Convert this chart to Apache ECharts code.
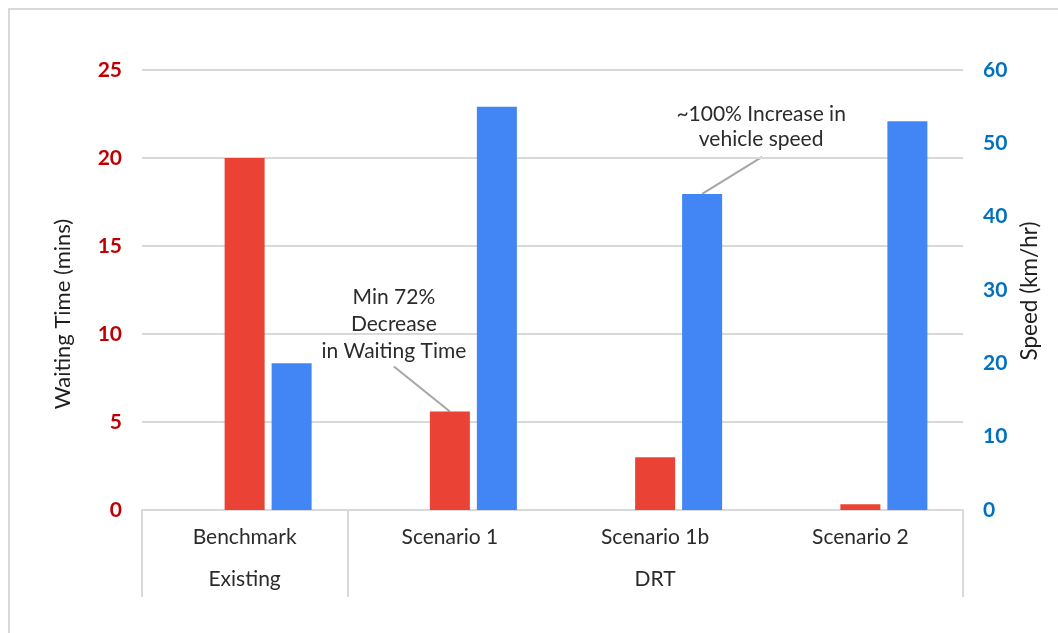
<!DOCTYPE html>
<html>
<head>
<meta charset="utf-8">
<script src="https://cdn.jsdelivr.net/npm/echarts@6/dist/echarts.min.js"></script>
<style>
html,body{margin:0;padding:0;background:#fff;}
#chart{width:1058px;height:633px;}
</style>
</head>
<body>
<div id="chart"></div>
<script>
// ---- data ----
const categories = ['Benchmark', 'Scenario 1', 'Scenario 1b', 'Scenario 2'];
const groupLabels = ['Existing', '', 'DRT', ''];
const groupStarts = [0, 1]; // category index where each group begins
const spacer = [null, null, null, null];
const waitingTime = [20, 5.6, 3.0, 0.33];
const speed = [20, 55, 43.1, 53];
const waitAxis = { min: 0, max: 25, interval: 5, name: 'Waiting Time (mins)' };
const speedAxis = { min: 0, max: 60, interval: 10, name: 'Speed (km/hr)' };
const notes = [
  { series: 1, index: 1, text: 'Min 72%\nDecrease\nin Waiting Time' },
  { series: 2, index: 2, text: '~100% Increase in\nvehicle speed' }
];

const FONT = 'Lato';
const TEXT = '#2b2b2b';
const chart = echarts.init(document.getElementById('chart'), null, { renderer: 'canvas' });

const option = {
  animation: false,
  backgroundColor: '#ffffff',
  textStyle: { fontFamily: FONT },
  grid: { left: 142, right: 95, top: 70, bottom: 123 },
  xAxis: [
    {
      type: 'category', data: categories, position: 'bottom',
      axisLine: { show: true, lineStyle: { color: '#d9d9d9', width: 2 } },
      axisTick: { show: false },
      axisLabel: { color: TEXT, fontSize: 21, fontFamily: FONT, margin: 17, interval: 0 },
      splitLine: { show: false }
    },
    {
      type: 'category', data: groupLabels, position: 'bottom',
      axisLine: { show: false },
      axisTick: {
        show: true, length: 87, inside: false,
        interval: function (i) { return groupStarts.indexOf(i) >= 0; },
        lineStyle: { color: '#d9d9d9', width: 2 }
      },
      axisLabel: { color: TEXT, fontSize: 21, fontFamily: FONT, margin: 59, interval: 0 },
      splitLine: { show: false }
    }
  ],
  yAxis: [
    {
      type: 'value', position: 'left', min: waitAxis.min, max: waitAxis.max, interval: waitAxis.interval,
      axisLine: { show: false }, axisTick: { show: false },
      axisLabel: { color: '#C00000', fontWeight: 'bold', fontSize: 21, fontFamily: FONT, margin: 20 },
      splitLine: { show: true, lineStyle: { color: '#d9d9d9', width: 2 } }
    },
    {
      type: 'value', position: 'right', min: speedAxis.min, max: speedAxis.max, interval: speedAxis.interval,
      axisLine: { show: false }, axisTick: { show: false },
      axisLabel: { color: '#0070C0', fontWeight: 'bold', fontSize: 21, fontFamily: FONT, margin: 20 },
      splitLine: { show: false }
    }
  ],
  series: [
    { type: 'bar', name: 'spacer', xAxisIndex: 0, yAxisIndex: 0, data: spacer, barWidth: 40, barGap: '17.5%', silent: true },
    { type: 'bar', name: 'Waiting Time', xAxisIndex: 0, yAxisIndex: 0, data: waitingTime, barWidth: 40, barGap: '17.5%',
      itemStyle: { color: '#EA4335' } },
    { type: 'bar', name: 'Speed', xAxisIndex: 0, yAxisIndex: 1, data: speed, barWidth: 40, barGap: '17.5%',
      itemStyle: { color: '#4285F4' } }
  ],
  graphic: [
    { type: 'rect', silent: true, shape: { x: 9, y: 9, width: 1200, height: 800 },
      style: { fill: 'none', stroke: '#d9d9d9', lineWidth: 2 } },
    { type: 'text', x: 63, y: 314, rotation: Math.PI / 2,
      style: { text: waitAxis.name, font: '22px ' + FONT, fill: '#1f1f1f', textAlign: 'center', textVerticalAlign: 'middle' } },
    { type: 'text', x: 1030, y: 291, rotation: Math.PI / 2,
      style: { text: speedAxis.name, font: '22.5px ' + FONT, fill: '#1f1f1f', textAlign: 'center', textVerticalAlign: 'middle' } }
  ]
};
chart.setOption(option);

// ---- annotations anchored to the rendered bars ----
const noteLayout = [
  { tx: -56, ty: -87, lh: 27, lx: -56, ly: -45 },
  { tx: 59, ty: -67, lh: 25, lx: 60, ly: -37 }
];
const extra = [];
notes.forEach(function (n, k) {
  const lay = chart.getModel().getSeriesByIndex(n.series).getData().getItemLayout(n.index);
  const cx = lay.x + lay.width / 2;
  const top = Math.min(lay.y, lay.y + lay.height);
  const L = noteLayout[k];
  extra.push({ type: 'line', silent: true,
    shape: { x1: cx + L.lx, y1: top + L.ly, x2: cx, y2: top },
    style: { stroke: '#a6a6a6', lineWidth: 2 } });
  extra.push({ type: 'text', silent: true, x: cx + L.tx, y: top + L.ty,
    style: { text: n.text, font: '21px ' + FONT, fill: TEXT, textAlign: 'center',
      textVerticalAlign: 'middle', lineHeight: L.lh } });
});
chart.setOption({ graphic: option.graphic.concat(extra) });
</script>
</body>
</html>
